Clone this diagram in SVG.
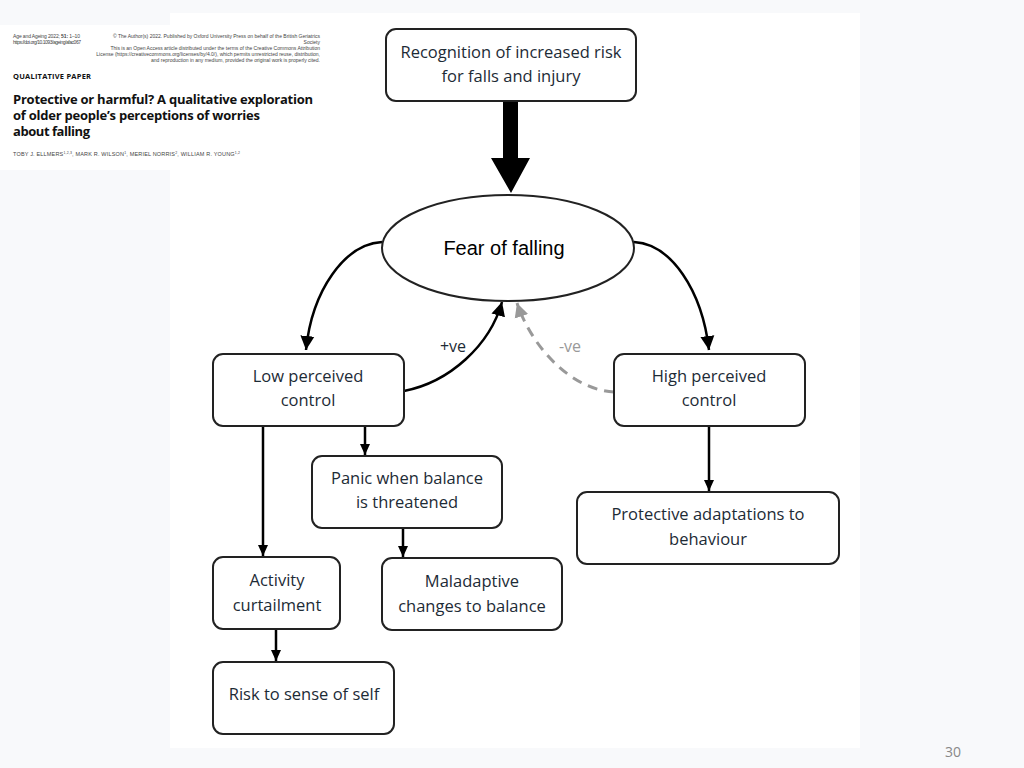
<svg xmlns="http://www.w3.org/2000/svg" width="1024" height="768" viewBox="0 0 1024 768">
<defs>
<style>
.node rect{fill:#fff;stroke:#222;stroke-width:2}
.t{font-family:"Open Sans","Noto Sans",sans-serif;font-size:16.5px;fill:#1d2b36;text-anchor:middle}
.conn{fill:none;stroke:#000;stroke-width:2.5}
.hd{font-family:"Liberation Sans",Arial,sans-serif;fill:#444}
.hb{font-family:"Open Sans","Liberation Sans",sans-serif;font-weight:bold;fill:#111}
</style>
<marker id="ah" markerUnits="userSpaceOnUse" markerWidth="16" markerHeight="16" viewBox="0 0 16 16" refX="14" refY="8" orient="auto">
<path d="M0,1 L14,8 L0,15 Z" fill="#000"/>
</marker>
<marker id="ahs" markerUnits="userSpaceOnUse" markerWidth="12" markerHeight="12" viewBox="0 0 12 12" refX="11" refY="6" orient="auto">
<path d="M0,1 L11,6 L0,11 Z" fill="#000"/>
</marker>
<marker id="ahg" markerUnits="userSpaceOnUse" markerWidth="16" markerHeight="16" viewBox="0 0 16 16" refX="14" refY="8" orient="auto">
<path d="M0,1 L14,8 L0,15 Z" fill="#999"/>
</marker>
</defs>
<rect x="0" y="0" width="1024" height="768" fill="#f8f9fb"/>
<rect x="170" y="13" width="690" height="735" fill="#fff"/>
<g id="header">
<rect x="0" y="25" width="340" height="145" fill="#fff"/>
<text class="hd" x="13" y="38" font-size="5" textLength="67">Age and Ageing 2022; <tspan font-weight="bold">51:</tspan> 1–10</text>
<text class="hd" x="13" y="44" font-size="5" fill="#5a6fa8" textLength="68">https://doi.org/10.1093/ageing/afac067</text>
<g class="hd" font-size="5" text-anchor="end">
<text x="320" y="38">© The Author(s) 2022. Published by Oxford University Press on behalf of the British Geriatrics</text>
<text x="320" y="44">Society</text>
<text x="320" y="50">This is an Open Access article distributed under the terms of the Creative Commons Attribution</text>
<text x="320" y="56">License (https://creativecommons.org/licenses/by/4.0/), which permits unrestricted reuse, distribution,</text>
<text x="320" y="62">and reproduction in any medium, provided the original work is properly cited.</text>
</g>
<text class="hb" x="13" y="79" font-size="7.5" textLength="78">QUALITATIVE PAPER</text>
<text class="hb" x="13" y="104" font-size="13" textLength="300">Protective or harmful? A qualitative exploration</text>
<text class="hb" x="13" y="120" font-size="13" textLength="247">of older people’s perceptions of worries</text>
<text class="hb" x="13" y="136" font-size="13" textLength="77">about falling</text>
<text class="hd" x="13" y="156" font-size="5.5" textLength="227">TOBY J. ELLMERS<tspan baseline-shift="super" font-size="3.5">1,2,3</tspan>, MARK R. WILSON<tspan baseline-shift="super" font-size="3.5">1</tspan>, MERIEL NORRIS<tspan baseline-shift="super" font-size="3.5">2</tspan>, WILLIAM R. YOUNG<tspan baseline-shift="super" font-size="3.5">1,2</tspan></text>
</g>
<g id="connectors">
<path d="M503,101 H518 V158 H530 L511,193 L491,158 H503 Z" fill="#000"/>
<path class="conn" d="M382,242 C345,244 312,290 306,350" marker-end="url(#ah)"/>
<path class="conn" d="M634,242 C671,244 702,290 709,350" marker-end="url(#ah)"/>
<path class="conn" d="M404,391 C450,382 490,345 502,302" marker-end="url(#ah)"/>
<path d="M614,392 C572,390 532,348 517,303" fill="none" stroke="#999" stroke-width="3" stroke-dasharray="10,7" marker-end="url(#ahg)"/>
<path class="conn" stroke-width="2" d="M365,426 V455" marker-end="url(#ahs)"/>
<path class="conn" stroke-width="2" d="M263,426 V556" marker-end="url(#ahs)"/>
<path class="conn" stroke-width="2" d="M403,528 V557" marker-end="url(#ahs)"/>
<path class="conn" stroke-width="2" d="M276,629 V661" marker-end="url(#ahs)"/>
<path class="conn" stroke-width="2" d="M709,426 V491" marker-end="url(#ahs)"/>
<text x="453" y="352" font-family="Open Sans,Noto Sans,sans-serif" font-size="16" fill="#1d2b36" text-anchor="middle">+ve</text>
<text x="570" y="352" font-family="Open Sans,Noto Sans,sans-serif" font-size="16" fill="#999" text-anchor="middle">-ve</text>
</g>
<g id="recognition" class="node">
<rect x="386" y="29" width="250" height="72" rx="10"/>
<text class="t" x="511" y="58">Recognition of increased risk</text>
<text class="t" x="511" y="82">for falls and injury</text>
</g>
<g id="fear">
<ellipse cx="508" cy="248" rx="126" ry="53" fill="#fff" stroke="#222" stroke-width="2"/>
<text x="504" y="255" font-family="Liberation Sans,Arial,sans-serif" font-size="20" fill="#000" text-anchor="middle">Fear of falling</text>
</g>
<g id="low" class="node">
<rect x="213" y="354" width="191" height="72" rx="10"/>
<text class="t" x="308" y="382">Low perceived</text>
<text class="t" x="308" y="406">control</text>
</g>
<g id="high" class="node">
<rect x="614" y="354" width="191" height="72" rx="10"/>
<text class="t" x="709" y="382">High perceived</text>
<text class="t" x="709" y="406">control</text>
</g>
<g id="panic" class="node">
<rect x="312" y="456" width="190" height="72" rx="10"/>
<text class="t" x="407" y="484">Panic when balance</text>
<text class="t" x="407" y="508">is threatened</text>
</g>
<g id="protective" class="node">
<rect x="577" y="492" width="262" height="72" rx="10"/>
<text class="t" x="708" y="520">Protective adaptations to</text>
<text class="t" x="708" y="545">behaviour</text>
</g>
<g id="activity" class="node">
<rect x="213" y="557" width="127" height="72" rx="10"/>
<text class="t" x="277" y="586">Activity</text>
<text class="t" x="277" y="611">curtailment</text>
</g>
<g id="maladaptive" class="node">
<rect x="382" y="558" width="180" height="72" rx="10"/>
<text class="t" x="472" y="587">Maladaptive</text>
<text class="t" x="472" y="612">changes to balance</text>
</g>
<g id="risk" class="node">
<rect x="213" y="662" width="181" height="72" rx="10"/>
<text class="t" x="304" y="700">Risk to sense of self</text>
</g>
<text x="953" y="757" font-family="Open Sans,Noto Sans,sans-serif" font-size="14" fill="#888" text-anchor="middle">30</text>
</svg>
